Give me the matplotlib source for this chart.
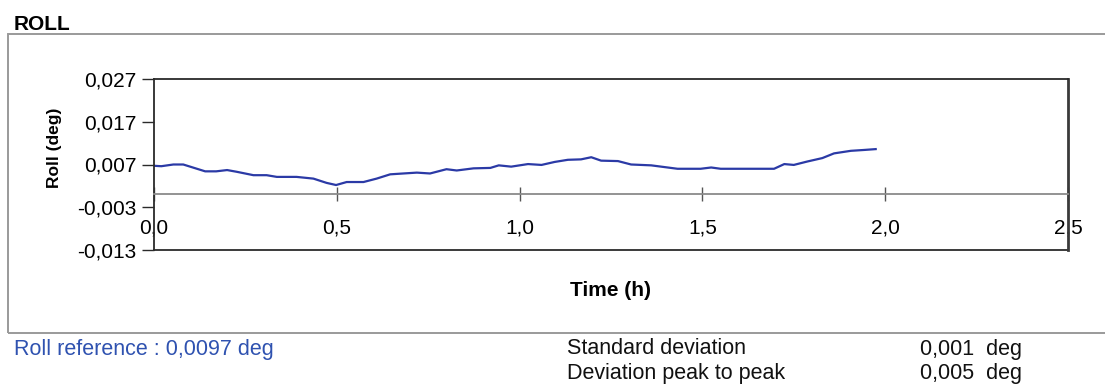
import matplotlib
matplotlib.use("Agg")
import matplotlib.pyplot as plt
from matplotlib.patches import Rectangle

# Roll measurement over time
time_h = [0.0, 0.02, 0.053, 0.08, 0.14, 0.17, 0.2, 0.226, 0.272, 0.308, 0.336,
          0.39, 0.436, 0.472, 0.498, 0.527, 0.573, 0.609, 0.646, 0.682, 0.719,
          0.755, 0.8, 0.828, 0.874, 0.92, 0.943, 0.977, 1.023, 1.06, 1.096,
          1.132, 1.168, 1.196, 1.223, 1.269, 1.305, 1.36, 1.396, 1.432, 1.495,
          1.524, 1.55, 1.587, 1.696, 1.724, 1.75, 1.787, 1.828, 1.86, 1.906,
          1.942, 1.974]
roll_deg = [0.0067, 0.0066, 0.0070, 0.0070, 0.0054, 0.0054, 0.0057, 0.0053,
            0.0045, 0.0045, 0.0041, 0.0041, 0.0037, 0.0027, 0.0022, 0.0029,
            0.0029, 0.0037, 0.0047, 0.0049, 0.0051, 0.0049, 0.0059, 0.0056,
            0.0061, 0.0062, 0.0068, 0.0065, 0.0071, 0.0069, 0.0076, 0.0081,
            0.0082, 0.0087, 0.0079, 0.0078, 0.0070, 0.0068, 0.0064, 0.0060,
            0.0060, 0.0063, 0.0060, 0.0060, 0.0060, 0.0071, 0.0069, 0.0077,
            0.0085, 0.0096, 0.0102, 0.0104, 0.0106]

y_ticks = [-0.013, -0.003, 0.007, 0.017, 0.027]
y_tick_labels = ["-0,013", "-0,003", "0,007", "0,017", "0,027"]
x_ticks = [0.0, 0.5, 1.0, 1.5, 2.0, 2.5]
x_tick_labels = ["0,0", "0,5", "1,0", "1,5", "2,0", "2,5"]

title = "ROLL"
x_label = "Time (h)"
y_label = "Roll (deg)"
reference_text = "Roll reference : 0,0097 deg"
stat_names = ["Standard deviation", "Deviation peak to peak"]
stat_values = ["0,001  deg", "0,005  deg"]

plt.rcParams["font.family"] = ["Liberation Sans", "DejaVu Sans"]

W, H = 1105, 387
fig = plt.figure(figsize=(W / 100, H / 100), dpi=100)
fig.patch.set_facecolor("white")


def fx(px):
    return px / W


def fy(py):
    return 1 - py / H


# outer panel frame
fig.patches.append(Rectangle((fx(8), fy(333)), fx(1110) - fx(8), fy(34) - fy(333),
                             transform=fig.transFigure, fill=False,
                             edgecolor="#9a9a9a", linewidth=1.4))

ax = fig.add_axes([fx(154), fy(250), fx(1068) - fx(154), fy(79) - fy(250)])
ax.plot(time_h, roll_deg, color="#2b3aa6", linewidth=1.6)

ax.set_xlim(0, 2.5)
ax.set_ylim(-0.013, 0.027)

ax.set_yticks(y_ticks)
ax.set_yticklabels(y_tick_labels)
ax.set_xticks(x_ticks)
ax.set_xticklabels(x_tick_labels)

for side in ("left", "top"):
    ax.spines[side].set_color("#2a2a2a")
    ax.spines[side].set_linewidth(1.3)
ax.spines["right"].set_color("#3a3a3a")
ax.spines["right"].set_linewidth(2.0)
ax.spines["bottom"].set_position(("data", 0))
ax.spines["bottom"].set_color("#8a8a8a")
ax.spines["bottom"].set_linewidth(1.3)
# lower border of the plot area
ax.plot([0, 1], [0, 0], transform=ax.transAxes, color="#3a3a3a",
        linewidth=1.4, clip_on=False)

ax.tick_params(axis="y", direction="out", length=9, width=1.0, color="#2a2a2a",
               pad=3.5, labelsize=15)
ax.tick_params(axis="x", direction="inout", length=9.5, width=1.0, color="#555555",
               pad=12.5, labelsize=15)

fig.text(fx(14), fy(24), title, fontsize=15, fontweight="bold", ha="left", va="center")
fig.text(fx(610), fy(291), x_label, fontsize=15, fontweight="bold", ha="center", va="center")
fig.text(fx(55), fy(148), y_label, fontsize=12.5, fontweight="bold", ha="center",
         va="center", rotation=90)

fig.text(fx(14), fy(350), reference_text, fontsize=15.5, color="#2f52b0",
         ha="left", va="center")
for i, (name, val) in enumerate(zip(stat_names, stat_values)):
    fig.text(fx(567), fy(349 + 24 * i), name, fontsize=15.5, color="#111111",
             ha="left", va="center")
    fig.text(fx(920), fy(349 + 24 * i), val, fontsize=15.5, color="#111111",
             ha="left", va="center")

fig.savefig("out.png", dpi=100)
